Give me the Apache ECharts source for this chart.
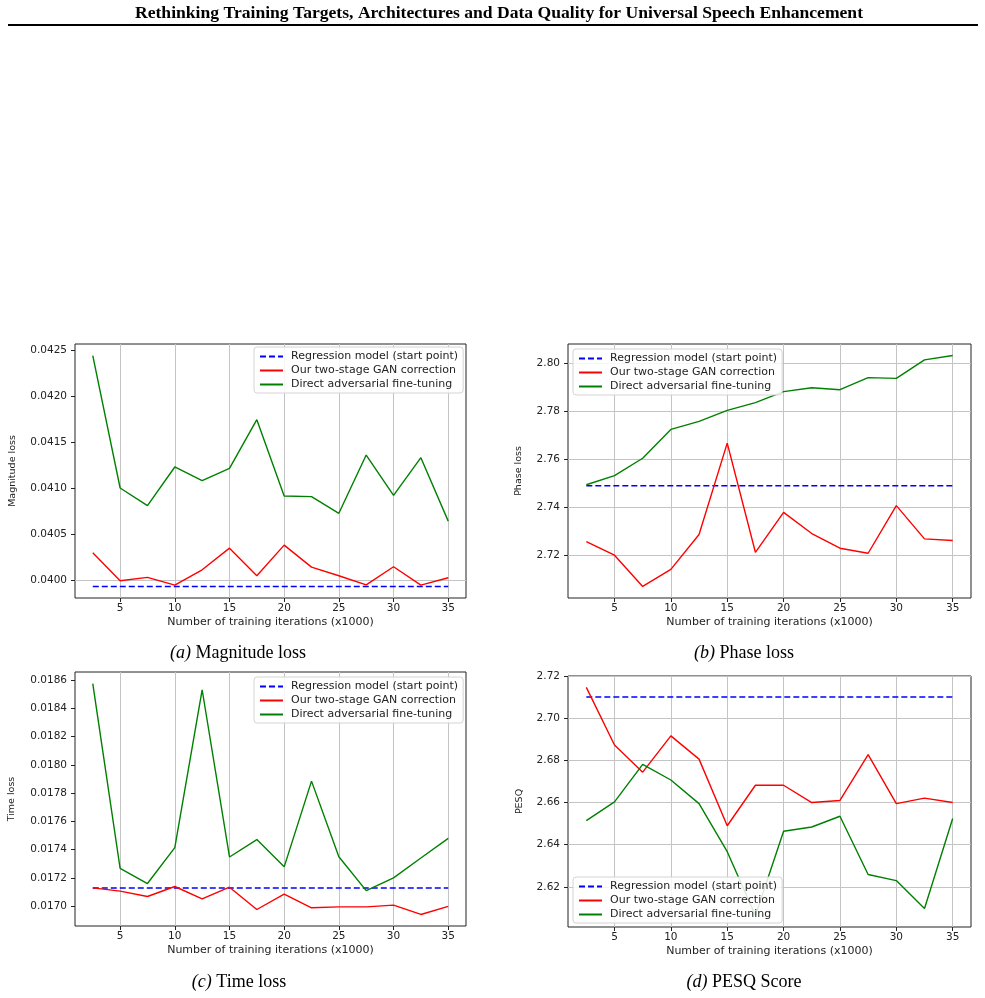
<!DOCTYPE html>
<html>
<head>
<meta charset="utf-8">
<script src="https://cdn.jsdelivr.net/npm/echarts@6/dist/echarts.min.js"></script>
<style>
  html, body { margin: 0; padding: 0; background: #fff; }
  #main { width: 985px; height: 998px; }
</style>
</head>
<body>
<div id="main"></div>
<script>
// x values: training iterations (x1000)
const iters = [2.5, 5, 7.5, 10, 12.5, 15, 17.5, 20, 22.5, 25, 27.5, 30, 32.5, 35];
const xTicks = [5, 10, 15, 20, 25, 30, 35];

// (a) magnitude loss
const magBase = 0.039931;
const magGan = [0.040297, 0.039993, 0.040029, 0.039946, 0.040112, 0.040347, 0.040047, 0.040380, 0.040141, 0.040047, 0.039949, 0.040145, 0.039946, 0.040025];
const magDirect = [0.042438, 0.041000, 0.040808, 0.041228, 0.041080, 0.041214, 0.041742, 0.040913, 0.040906, 0.040725, 0.041358, 0.040920, 0.041329, 0.040640];
const magTicks = [0.0400, 0.0405, 0.0410, 0.0415, 0.0420, 0.0425];

// (b) phase loss
const phaseBase = 2.7490;
const phaseGan = [2.7257, 2.7201, 2.7071, 2.7142, 2.7287, 2.7667, 2.7213, 2.7379, 2.7291, 2.7230, 2.7209, 2.7407, 2.7269, 2.7262];
const phaseDirect = [2.7494, 2.7532, 2.7604, 2.7724, 2.7757, 2.7803, 2.7835, 2.7881, 2.7897, 2.7889, 2.7939, 2.7936, 2.8013, 2.8031];
const phaseTicks = [2.72, 2.74, 2.76, 2.78, 2.80];

// (c) time loss
const timeBase = 0.017129;
const timeGan = [0.017129, 0.017106, 0.017068, 0.017139, 0.017052, 0.017134, 0.016976, 0.017085, 0.016988, 0.016995, 0.016995, 0.017007, 0.016941, 0.016998];
const timeDirect = [0.018576, 0.017268, 0.017160, 0.017414, 0.018532, 0.017348, 0.017471, 0.017278, 0.017885, 0.017350, 0.017110, 0.017200, 0.017341, 0.017480];
const timeTicks = [0.0170, 0.0172, 0.0174, 0.0176, 0.0178, 0.0180, 0.0182, 0.0184, 0.0186];

// (d) PESQ
const pesqBase = 2.7100;
const pesqGan = [2.7146, 2.6873, 2.6744, 2.6916, 2.6806, 2.6490, 2.6682, 2.6682, 2.6600, 2.6610, 2.6827, 2.6595, 2.6621, 2.6600];
const pesqDirect = [2.6514, 2.6603, 2.6781, 2.6707, 2.6595, 2.6367, 2.6064, 2.6464, 2.6484, 2.6535, 2.6259, 2.6230, 2.6098, 2.6524];
const pesqTicks = [2.62, 2.64, 2.66, 2.68, 2.70, 2.72];

const names = ['Regression model (start point)', 'Our two-stage GAN correction', 'Direct adversarial fine-tuning'];
const FONT = 'DejaVu Sans';
const SERIF = 'Liberation Serif';

var panels = [
    { grid: { left: 75, top: 344, width: 391, height: 254 }, base: magBase, gan: magGan, direct: magDirect, ticks: magTicks, dec: 4, ylabel: 'Magnitude loss', nameGap: 57, legend: { left: 254, top: 347 } },
    { grid: { left: 568, top: 344, width: 403, height: 254 }, base: phaseBase, gan: phaseGan, direct: phaseDirect, ticks: phaseTicks, dec: 2, ylabel: 'Phase loss', nameGap: 44, legend: { left: 573, top: 349 } },
    { grid: { left: 75, top: 672, width: 391, height: 254 }, base: timeBase, gan: timeGan, direct: timeDirect, ticks: timeTicks, dec: 4, ylabel: 'Time loss', nameGap: 58, legend: { left: 254, top: 677 } },
    { grid: { left: 568, top: 676, width: 403, height: 251 }, base: pesqBase, gan: pesqGan, direct: pesqDirect, ticks: pesqTicks, dec: 2, ylabel: 'PESQ', nameGap: 43, legend: { left: 573, top: 877 } }
];

// matplotlib-like auto range: data extent plus 5% margins
function padRange(vals) {
    var lo = Math.min.apply(null, vals), hi = Math.max.apply(null, vals);
    var m = (hi - lo) * 0.05;
    return [lo - m, hi + m];
}

var grids = [], xAxes = [], yAxes = [], series = [], legends = [];

panels.forEach(function (p, i) {
    grids.push(Object.assign({ show: true, borderColor: '#222', borderWidth: 1, backgroundColor: 'transparent' }, p.grid));

    var xr = padRange(iters);
    xAxes.push({
        type: 'value', gridIndex: i, min: xr[0], max: xr[1],
        name: 'Number of training iterations (x1000)', nameLocation: 'middle', nameGap: 19,
        nameTextStyle: { fontFamily: FONT, fontSize: 11, color: '#222' },
        axisLine: { show: false },
        axisTick: { show: true, inside: false, length: 4, customValues: xTicks, lineStyle: { color: '#222', width: 1 } },
        axisLabel: { customValues: xTicks, margin: 5, fontFamily: FONT, fontSize: 10.5, color: '#222' },
        splitLine: { show: false }
    });

    var yr = padRange(p.gan.concat(p.direct, [p.base]));
    yAxes.push({
        type: 'value', gridIndex: i, min: yr[0], max: yr[1],
        name: p.ylabel, nameLocation: 'middle', nameGap: p.nameGap, nameRotate: 90,
        nameTextStyle: { fontFamily: FONT, fontSize: 9.5, color: '#222' },
        axisLine: { show: false },
        axisTick: { show: true, inside: false, length: 4, customValues: p.ticks, lineStyle: { color: '#222', width: 1 } },
        axisLabel: { customValues: p.ticks, margin: 8, fontFamily: FONT, fontSize: 10.5, color: '#222',
            formatter: function (v) { return v.toFixed(p.dec); } },
        splitLine: { show: false }
    });

    // grid lines drawn under the curves
    series.push({
        type: 'line', name: 'grid' + i, xAxisIndex: i, yAxisIndex: i, data: [], silent: true,
        markLine: {
            silent: true, z: 1, symbol: ['none', 'none'], label: { show: false }, animation: false,
            lineStyle: { color: '#c4c4c4', width: 1, type: 'solid' },
            data: xTicks.map(function (v) { return { xAxis: v }; }).concat(p.ticks.map(function (v) { return { yAxis: v }; }))
        }
    });

    series.push({
        type: 'line', name: names[0], xAxisIndex: i, yAxisIndex: i, symbol: 'none', z: 3,
        lineStyle: { color: '#0000ff', width: 1.5, type: [6, 3] }, itemStyle: { color: '#0000ff' },
        data: [[iters[0], p.base], [iters[iters.length - 1], p.base]]
    });
    series.push({
        type: 'line', name: names[1], xAxisIndex: i, yAxisIndex: i, symbol: 'none', z: 3,
        lineStyle: { color: '#ff0000', width: 1.4 }, itemStyle: { color: '#ff0000' },
        data: iters.map(function (x, k) { return [x, p.gan[k]]; })
    });
    series.push({
        type: 'line', name: names[2], xAxisIndex: i, yAxisIndex: i, symbol: 'none', z: 3,
        lineStyle: { color: '#008000', width: 1.4 }, itemStyle: { color: '#008000' },
        data: iters.map(function (x, k) { return [x, p.direct[k]]; })
    });

    legends.push({
        data: names, orient: 'vertical', left: p.legend.left, top: p.legend.top,
        itemWidth: 23, itemHeight: 11, itemGap: 3, selectedMode: false,
        padding: [4, 5, 3, 5],
        itemStyle: { color: 'rgba(0,0,0,0)', borderWidth: 0, opacity: 0 },
        backgroundColor: 'rgba(255,255,255,0.85)', borderColor: '#d4d4d4', borderWidth: 1, borderRadius: 3,
        textStyle: { fontFamily: FONT, fontSize: 11, color: '#222', padding: [0, 0, 0, 3] }
    });
});

function caption(letter, label, cx, cy) {
    return {
        type: 'text', x: cx, y: cy,
        style: {
            text: '{i|(' + letter + ')} ' + label, align: 'center', verticalAlign: 'middle',
            font: '18px "' + SERIF + '"', fill: '#000',
            rich: { i: { fontStyle: 'italic', fontFamily: SERIF, fontSize: 18 } }
        }
    };
}

var chart = echarts.init(document.getElementById('main'), null, { renderer: 'canvas' });
chart.setOption({
    animation: false,
    backgroundColor: '#fff',
    textStyle: { fontFamily: FONT },
    grid: grids,
    xAxis: xAxes,
    yAxis: yAxes,
    legend: legends,
    series: series,
    graphic: [
        {
            type: 'text', x: 499, y: 13,
            style: { text: 'Rethinking Training Targets, Architectures and Data Quality for Universal Speech Enhancement',
                align: 'center', verticalAlign: 'middle', font: 'bold 17.6px "' + SERIF + '"', fill: '#000' }
        },
        { type: 'rect', shape: { x: 8, y: 24, width: 970, height: 2 }, style: { fill: '#000' } },
        caption('a', 'Magnitude loss', 238, 653),
        caption('b', 'Phase loss', 744, 653),
        caption('c', 'Time loss', 239, 982),
        caption('d', 'PESQ Score', 744, 982)
    ]
});
</script>
</body>
</html>
